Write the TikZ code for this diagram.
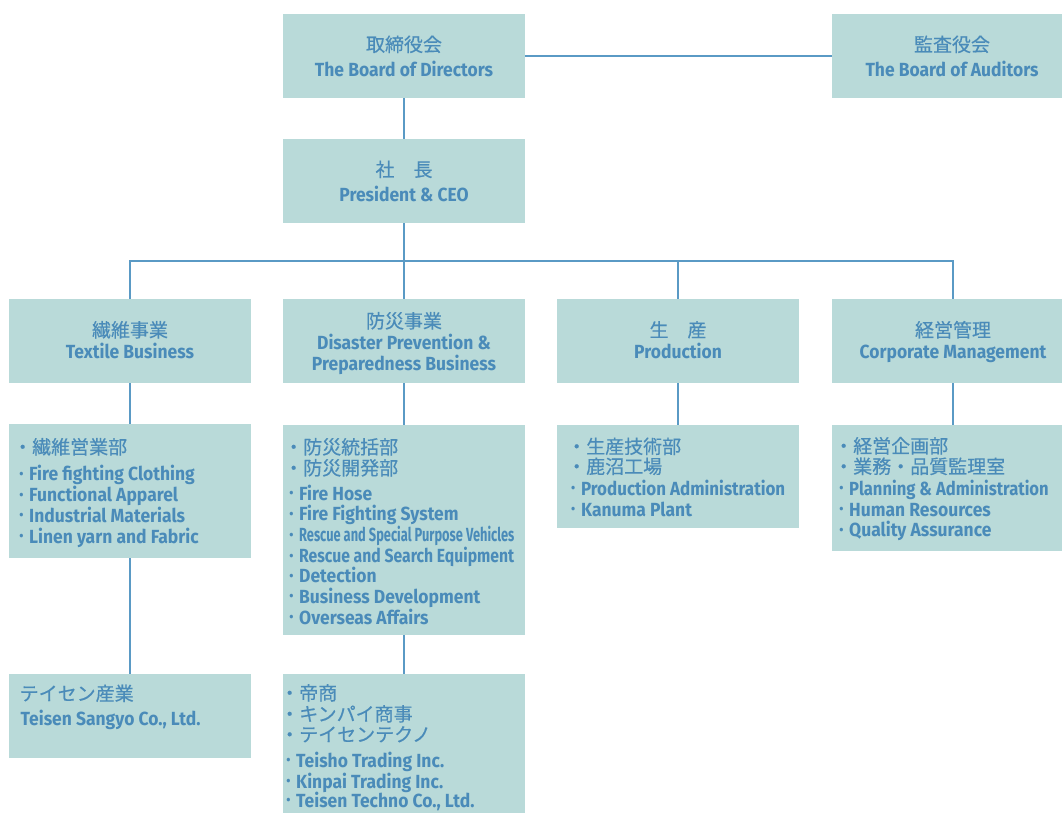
\documentclass[tikz,border=0pt]{standalone}
\usepackage{graphicx}
\usepackage{fontspec}
\setmainfont{Fira Sans}[FakeStretch=0.92]
\newfontfamily\jpfont{Noto Sans CJK JP}[FakeBold=0.4]
\definecolor{boxfill}{HTML}{B9DAD9}
\definecolor{txt}{HTML}{4A8BB9}
\definecolor{lncol}{HTML}{5A9AC5}
\newcommand\bul{\makebox[9.9pt][l]{\raisebox{2.5pt}{\fontsize{13}{13}\selectfont •}}}
\begin{document}
\begin{tikzpicture}[x=1pt,y=-1pt,
  box/.style={fill=boxfill,draw=none,inner sep=0pt,minimum width=242pt},
  en/.style={text=txt,inner sep=0pt,text height=12.5pt,text depth=3.5pt,font=\fontsize{19}{21}\selectfont\bfseries},
  jp/.style={text=txt,inner sep=0pt,text height=14.5pt,text depth=1.5pt,font=\fontsize{19}{21}\selectfont\jpfont},
  conn/.style={draw=lncol,line width=1.5pt}]
\useasboundingbox (0,0) rectangle (1062,812);
% boxes
\node[box,minimum height=84pt] (board) at (404,56) {};
\node[box,minimum height=84pt] (aud) at (953,56) {};
\node[box,minimum height=84pt] (pres) at (404,181) {};
\node[box,minimum height=84pt] (tex) at (130,341) {};
\node[box,minimum height=84pt] (dis) at (404,341) {};
\node[box,minimum height=84pt] (prod) at (678,341) {};
\node[box,minimum height=84pt] (corp) at (953,341) {};
\node[box,minimum height=134pt] (texi) at (130,491) {};
\node[box,minimum height=210pt] (disi) at (404,530) {};
\node[box,minimum height=103pt] (prodi) at (678,476.5) {};
\node[box,minimum height=126pt] (corpi) at (953,488) {};
\node[box,minimum height=84pt] (sangyo) at (130,716) {};
\node[box,minimum height=146pt] (grp) at (404,747) {};
% connectors
\coordinate (bus) at (404,261);
\draw[conn] (board) -- (aud);
\draw[conn] (board) -- (pres);
\draw[conn] (pres) -- (bus);
\draw[conn] (bus) -| (tex);
\draw[conn] (bus) -| (prod);
\draw[conn] (bus) -| (corp);
\draw[conn] (bus) -- (dis);
\draw[conn] (tex) -- (texi);
\draw[conn] (dis) -- (disi);
\draw[conn] (prod) -- (prodi);
\draw[conn] (corp) -- (corpi);
\draw[conn] (texi) -- (sangyo);
\draw[conn] (disi) -- (grp);
% header texts
\node[jp,anchor=base] (boardj) at (404,51.5) {取締役会};
\node[en,anchor=base] (boarde) at (404,76.5) {The Board of Directors};
\node[jp,anchor=base] (audj) at (952,51.5) {監査役会};
\node[en,anchor=base] (aude) at (952,76.5) {The Board of Auditors};
\node[jp,anchor=base] (presj) at (404,176.5) {社　長};
\node[en,anchor=base] (prese) at (404,201.5) {President \& CEO};
\node[jp,anchor=base] (texj) at (130,337) {繊維事業};
\node[en,anchor=base] (texe) at (130,358) {Textile Business};
\node[jp,anchor=base] (disj) at (404,328) {防災事業};
\node[en,anchor=base] (dise1) at (404,349) {Disaster Prevention \&};
\node[en,anchor=base] (dise2) at (404,370) {Preparedness Business};
\node[jp,anchor=base] (prodj) at (678,337) {生　産};
\node[en,anchor=base] (prode) at (678,358) {Production};
\node[jp,anchor=base] (corpj) at (953,337) {経営管理};
\node[en,anchor=base] (corpe) at (953,358) {Corporate Management};
% textile items
\node[jp,anchor=base west] (ti1) at (13,454) {・繊維営業部};
\node[en,anchor=base west] (ti2) at (19.1,480.7) {\bul Fire fighting Clothing};
\node[en,anchor=base west] (ti3) at (19.1,501.7) {\bul Functional Apparel};
\node[en,anchor=base west] (ti4) at (19.1,522.3) {\bul Industrial Materials};
\node[en,anchor=base west] (ti5) at (19.1,543.3) {\bul Linen yarn and Fabric};
% disaster items
\node[jp,anchor=base west] (di1) at (284,454) {・防災統括部};
\node[jp,anchor=base west] (di2) at (284,475) {・防災開発部};
\node[en,anchor=base west] (di3) at (289.1,500) {\bul Fire Hose};
\node[en,anchor=base west] (di4) at (289.1,520.7) {\bul Fire Fighting System};
\node[en,anchor=base west] (di5) at (289.1,541.7) {\bul\scalebox{0.735}[1]{Rescue and Special Purpose Vehicles}};
\node[en,anchor=base west] (di6) at (289.1,562.7) {\bul\scalebox{0.9}[1]{Rescue and Search Equipment}};
\node[en,anchor=base west] (di7) at (289.1,582.7) {\bul Detection};
\node[en,anchor=base west] (di8) at (289.1,603.3) {\bul Business Development};
\node[en,anchor=base west] (di9) at (289.1,624) {\bul Overseas Affairs};
% production items
\node[jp,anchor=base west] (pi1) at (567,453.5) {・生産技術部};
\node[jp,anchor=base west] (pi2) at (567,473.5) {・鹿沼工場};
\node[en,anchor=base west] (pi3) at (571,495) {\bul\scalebox{0.97}[1]{Production Administration}};
\node[en,anchor=base west] (pi4) at (571,516) {\bul Kanuma Plant};
% corporate items
\node[jp,anchor=base west] (ci1) at (834,453) {・経営企画部};
\node[jp,anchor=base west] (ci2) at (834,473.5) {・業務・品質監理室};
\node[en,anchor=base west] (ci3) at (839.1,495) {\bul\scalebox{0.95}[1]{Planning \& Administration}};
\node[en,anchor=base west] (ci4) at (839.1,516) {\bul Human Resources};
\node[en,anchor=base west] (ci5) at (839.1,536.7) {\bul Quality Assurance};
% bottom
\node[jp,anchor=base west] (si1) at (19.5,700.5) {テイセン産業};
\node[en,anchor=base west] (si2) at (20.5,725) {Teisen Sangyo Co., Ltd.};
\node[jp,anchor=base west] (gi1) at (280,700) {・帝商};
\node[jp,anchor=base west] (gi2) at (280,721) {・キンパイ商事};
\node[jp,anchor=base west] (gi3) at (280,741.5) {・テイセンテクノ};
\node[en,anchor=base west] (gi4) at (286.1,767.3) {\bul Teisho Trading Inc.};
\node[en,anchor=base west] (gi5) at (286.1,788.3) {\bul Kinpai Trading Inc.};
\node[en,anchor=base west] (gi6) at (286.1,807.3) {\bul Teisen Techno Co., Ltd.};
\end{tikzpicture}
\end{document}
